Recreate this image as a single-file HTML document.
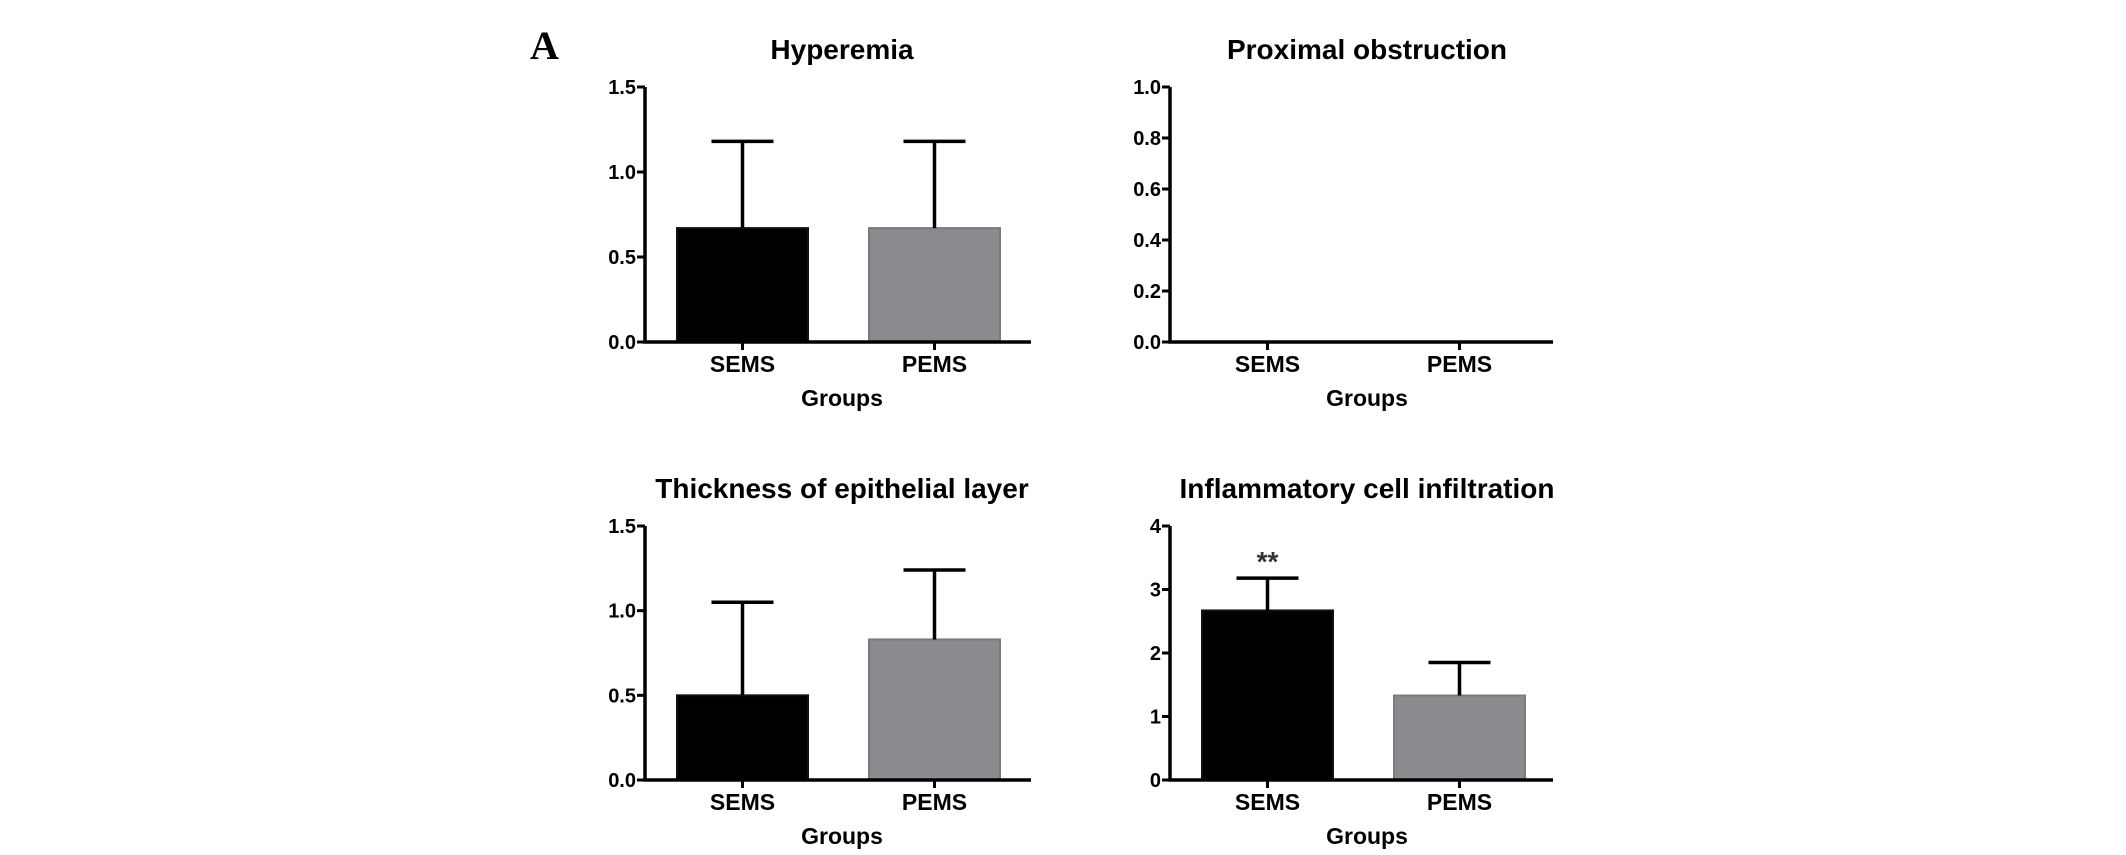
<!DOCTYPE html>
<html><head><meta charset="utf-8"><style>
html,body{margin:0;padding:0;background:#fff;overflow:hidden;}
svg{display:block;font-family:"Liberation Sans",Arial,sans-serif;}
</style></head><body>
<svg id="fig" width="2126" height="855" viewBox="0 0 2126 855" xmlns="http://www.w3.org/2000/svg">
<text x="530" y="59" font-family="Liberation Serif,serif" font-weight="bold" font-size="40">A</text>
</svg>
<script>
const categories = ["SEMS", "PEMS"];
const titles = ["Hyperemia", "Proximal obstruction", "Thickness of epithelial layer", "Inflammatory cell infiltration"];
const hyperemiaMeans = [0.67, 0.67];
const hyperemiaErrors = [1.18, 1.18];
const obstructionMeans = [0, 0];
const obstructionErrors = [0, 0];
const thicknessMeans = [0.5, 0.83];
const thicknessErrors = [1.05, 1.24];
const inflammationMeans = [2.67, 1.33];
const inflammationErrors = [3.18, 1.85];
const hyperemiaTicks = ["0.0", "0.5", "1.0", "1.5"];
const obstructionTicks = ["0.0", "0.2", "0.4", "0.6", "0.8", "1.0"];
const thicknessTicks = ["0.0", "0.5", "1.0", "1.5"];
const inflammationTicks = ["0", "1", "2", "3", "4"];
const significance = ["**", ""];

const NS = "http://www.w3.org/2000/svg";
const svg = document.getElementById("fig");
function mk(tag, attrs, parent) {
  const e = document.createElementNS(NS, tag);
  for (const k in attrs) e.setAttribute(k, attrs[k]);
  (parent || svg).appendChild(e);
  return e;
}
const colors = ["#000000", "#8b8a8f"];
const panels = [
  {x0:645, x1:1031, yTop:87, yZero:342, title:titles[0], means:hyperemiaMeans, errs:hyperemiaErrors, ticks:hyperemiaTicks, sig:null, name:"hyperemia"},
  {x0:1170, x1:1553, yTop:87, yZero:342, title:titles[1], means:obstructionMeans, errs:obstructionErrors, ticks:obstructionTicks, sig:null, name:"proximal-obstruction"},
  {x0:645, x1:1031, yTop:526, yZero:780, title:titles[2], means:thicknessMeans, errs:thicknessErrors, ticks:thicknessTicks, sig:null, name:"epithelial-thickness"},
  {x0:1170, x1:1553, yTop:526, yZero:780, title:titles[3], means:inflammationMeans, errs:inflammationErrors, ticks:inflammationTicks, sig:significance, name:"inflammatory-infiltration"}
];
panels.forEach(p => {
  const g = mk("g", {});
  
  
  const tv = p.ticks.map(Number);
  const ymax = tv[tv.length - 1];
  const y = v => p.yZero - (v / ymax) * (p.yZero - p.yTop);
  const bw = 131, off = 32, gap = 61;
  const bx = i => p.x0 + off + i * (bw + gap);
  const title = mk("text", {x: p.x0 + 197, y: p.yTop - 28, "text-anchor":"middle", "font-size":28, "font-weight":"bold"}, g);
  title.textContent = p.title;
  
  
  p.means.forEach((m, i) => {
    if (m > 0) {
      const r = mk("rect", {x: bx(i), y: y(m), width: bw, height: p.yZero - y(m), fill: colors[i], stroke: i ? "#7a797e" : "#111", "stroke-width": 2}, g);
      
      
    }
    if (p.errs[i] > m) {
      const cx = bx(i) + bw / 2;
      const e = mk("path", {d: `M${cx},${y(m)}V${y(p.errs[i])}M${cx-31},${y(p.errs[i])}H${cx+31}`, stroke:"#000", "stroke-width":3.5, fill:"none"}, g);
      
      
    }
    if (p.sig && p.sig[i]) {
      const s = mk("text", {x: bx(i) + bw / 2, y: y(p.errs[i]) - 7, "text-anchor":"middle", "font-size":28, "font-weight":"bold", fill:"#333"}, g);
      s.textContent = p.sig[i];
      
      
    }
    const cx = bx(i) + bw / 2;
    const tk = mk("line", {x1: cx, x2: cx, y1: p.yZero, y2: p.yZero + 8, stroke:"#000", "stroke-width":3}, g);
    
    
    const lab = mk("text", {x: cx, y: p.yZero + 30, "text-anchor":"middle", "font-size":23, "font-weight":"bold"}, g);
    lab.textContent = categories[i];
    
    
  });
  const ax = mk("path", {d:`M${p.x0},${p.yTop}V${p.yZero}H${p.x1}`, stroke:"#000", "stroke-width":3.5, fill:"none"}, g);
  
  
  p.ticks.forEach((t, k) => {
    const yy = y(tv[k]);
    const tl = mk("line", {x1: p.x0 - 8, x2: p.x0, y1: yy, y2: yy, stroke:"#000", "stroke-width":3}, g);
    
    
    const tt = mk("text", {x: p.x0 - 9, y: yy + 7, "text-anchor":"end", "font-size":20, "font-weight":"bold"}, g);
    tt.textContent = t;
    
    
  });
  const xt = mk("text", {x: p.x0 + 197, y: p.yZero + 64, "text-anchor":"middle", "font-size":23, "font-weight":"bold"}, g);
  xt.textContent = "Groups";
  
  
});
</script>
</body></html>
